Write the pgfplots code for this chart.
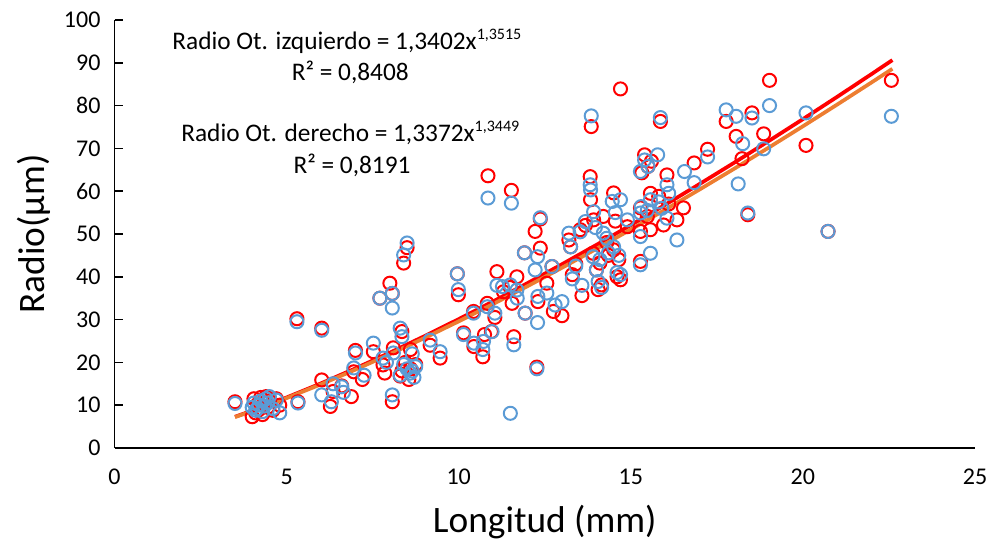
\documentclass[border=0pt]{standalone}
\usepackage{fontspec}
\setmainfont{Carlito}
\usepackage{pgfplots}
\pgfplotsset{compat=1.18}
\definecolor{xred}{RGB}{255,0,0}
\definecolor{xblue}{RGB}{91,155,213}
\definecolor{xorange}{RGB}{237,125,49}

\begin{document}
\begin{tikzpicture}
\useasboundingbox (-85.9pt,-72pt) rectangle (655.9pt,336pt);
\begin{axis}[
  at={(0,0)}, anchor=south west,
  scale only axis, width=645.4pt, height=321pt,
  xmin=0, xmax=25, ymin=0, ymax=100,
  axis x line=bottom, axis y line=left,
  axis line style={-, line width=1.1pt, black},
  xtick={0,5,10,15,20,25}, ytick={0,10,20,30,40,50,60,70,80,90,100},
  x tick style={draw=none},
  y tick style={line width=1.1pt, black},
  tick align=inside, major tick length=6pt,
  ticklabel style={font=\fontsize{18}{20}\selectfont},
  /pgf/number format/assume math mode=true,
  xticklabel style={yshift=-12.5pt},
  yticklabel style={xshift=-7pt},
  xlabel={Longitud (mm)}, ylabel={Radio(µm)},
  xlabel style={at={(axis description cs:0.5,-0.1986)}, anchor=base, font=\fontsize{28}{30}\selectfont},
  ylabel style={at={(axis description cs:-0.0815,0.5)}, anchor=base, rotate=0, font=\fontsize{28}{30}\selectfont},
]
\addplot[only marks, mark=o, mark size=4.9pt, mark options={draw=xred, line width=1.5pt}] coordinates {
(3.5,10.8) (4.0,7.3) (4.05,11.5) (4.1,8.2) (4.15,10.2) (4.2,9.0) (4.25,11.8) (4.3,7.8) (4.35,10.5) (4.4,12.0)
(4.45,9.5) (4.5,11.0) (4.6,8.8) (4.7,11.5) (4.8,10.0) (5.33,10.8) (5.3,30.2) (6.02,28.0) (6.02,15.9) (6.27,9.7)
(6.35,13.2) (6.6,14.5) (6.88,12.0) (7.0,22.8) (6.95,17.8) (7.2,16.0) (7.52,22.5) (7.71,35.0) (8.0,38.5) (8.07,36.1)
(8.07,10.8) (7.8,19.4) (7.85,17.5) (8.1,23.4) (8.35,27.2) (8.6,23.0) (8.4,43.2) (8.5,46.8) (8.35,18.0) (8.45,20.0)
(8.55,16.0) (8.6,18.5) (8.75,19.5) (8.3,16.8) (9.17,24.0) (9.46,21.0) (9.96,40.7) (9.99,35.8) (10.14,26.9) (10.43,31.9)
(10.44,23.7) (10.7,21.3) (10.75,26.5) (10.83,33.8) (10.85,63.6) (10.95,27.2) (11.05,30.5) (11.11,41.2) (11.3,36.5) (11.5,37.5)
(11.53,60.2) (11.55,33.8) (11.6,26.0) (11.69,40.0) (11.91,45.6) (11.93,31.5) (12.22,50.6) (12.27,18.9) (12.3,34.2) (12.37,53.5)
(12.37,46.7) (12.56,38.5) (12.71,42.4) (12.75,31.9) (13.0,30.9) (13.2,48.6) (13.25,47.0) (13.3,40.5) (13.4,43.0) (13.53,51.0)
(13.58,35.6) (13.68,52.0) (13.82,63.4) (13.83,58.0) (13.85,75.1) (13.9,45.5) (13.92,53.3) (14.0,41.6) (14.05,37.0) (14.1,43.2)
(14.15,38.1) (14.2,54.1) (14.3,48.0) (14.35,45.0) (14.5,59.6) (14.5,46.3) (14.55,53.0) (14.6,40.0) (14.65,44.0) (14.7,39.3)
(14.7,83.9) (14.9,51.7) (15.28,43.6) (15.28,50.6) (15.28,56.1) (15.32,64.3) (15.4,68.5) (15.48,54.1) (15.5,65.8) (15.57,51.0)
(15.57,59.5) (15.6,67.0) (15.81,58.8) (15.86,76.3) (15.95,52.1) (16.05,63.8) (16.1,57.0) (16.34,53.3) (16.53,56.1) (16.84,66.6)
(17.23,69.8) (17.77,76.3) (18.06,72.8) (18.23,67.6) (18.4,54.5) (18.52,78.3) (18.86,73.4) (19.03,85.9) (20.09,70.7) (20.73,50.6)
(22.57,85.9)
};
\addplot[only marks, mark=o, mark size=4.9pt, mark options={draw=xblue, line width=1.5pt}] coordinates {
(3.5,10.4) (4.0,9.5) (4.05,10.5) (4.1,8.8) (4.15,9.2) (4.2,10.0) (4.25,11.0) (4.3,8.5) (4.35,9.8) (4.4,11.5)
(4.45,10.5) (4.5,12.0) (4.6,9.2) (4.7,11.2) (4.8,8.2) (5.33,10.5) (5.3,29.5) (6.02,27.5) (6.02,12.4) (6.3,10.8)
(6.35,15.0) (6.6,14.3) (6.65,13.0) (7.0,22.2) (6.95,18.7) (7.25,17.0) (7.52,24.5) (7.71,35.0) (8.07,36.1) (8.07,32.7)
(8.07,12.4) (7.8,21.0) (7.9,20.0) (8.1,22.2) (8.3,28.0) (8.35,26.0) (8.65,22.0) (8.4,45.1) (8.5,47.9) (8.3,17.0)
(8.4,19.5) (8.5,18.5) (8.6,17.5) (8.65,18.0) (8.7,16.5) (8.75,19.0) (9.17,25.2) (9.46,22.5) (9.96,40.7) (9.99,37.0)
(10.14,26.5) (10.43,31.5) (10.44,24.5) (10.7,23.0) (10.72,24.9) (10.83,33.0) (10.85,58.4) (10.97,27.2) (11.05,31.5) (11.11,38.0)
(11.27,37.7) (11.5,38.1) (11.53,57.2) (11.7,35.0) (11.6,24.1) (11.69,36.9) (11.5,8.1) (11.91,45.6) (11.93,31.5) (12.22,41.6)
(12.27,18.5) (12.29,29.3) (12.3,35.4) (12.37,53.8) (12.29,44.7) (12.56,36.2) (12.71,42.4) (12.8,33.4) (13.0,34.2) (13.2,50.2)
(13.25,47.0) (13.3,39.5) (13.4,42.5) (13.53,50.5) (13.58,38.0) (13.68,52.9) (13.82,61.5) (13.83,60.3) (13.85,77.6) (13.9,44.7)
(13.92,55.2) (13.97,51.5) (14.0,41.6) (14.05,38.9) (14.1,44.0) (14.15,37.5) (14.2,50.2) (14.3,49.0) (14.35,45.6) (14.46,57.6)
(14.5,47.0) (14.55,55.0) (14.6,41.0) (14.65,45.0) (14.7,40.5) (14.7,58.0) (14.9,53.3) (15.28,42.8) (15.28,49.4) (15.28,54.9)
(15.3,56.4) (15.28,64.6) (15.4,67.3) (15.48,55.5) (15.5,65.8) (15.57,45.5) (15.57,58.0) (15.78,68.5) (15.81,57.5) (15.86,77.2)
(15.9,56.0) (16.05,53.7) (16.05,61.5) (16.1,59.5) (16.34,48.6) (16.56,64.6) (16.84,62.0) (17.23,68.0) (17.77,79.0) (18.06,77.5)
(18.25,71.1) (18.12,61.7) (18.4,54.9) (18.52,77.1) (18.86,69.9) (19.03,80.0) (20.09,78.3) (20.73,50.6) (22.57,77.5)
};
\addplot[xred, line width=2.8pt, no marks] coordinates {
(3.5,7.286) (4,8.727) (5,11.799) (6,15.095) (7,18.593) (8,22.269) (9,26.111) (10,30.108) (11,34.247) (12,38.523)
(13,42.927) (14,47.450) (15,52.086) (16,56.834) (17,61.685) (18,66.637) (19,71.690) (20,76.835) (21,82.073) (22,87.398) (22.6,90.635)
};
\addplot[xorange, line width=2.8pt, no marks] coordinates {
(3.5,7.210) (4,8.628) (5,11.648) (6,14.885) (7,18.314) (8,21.917) (9,25.678) (10,29.587) (11,33.636) (12,37.811)
(13,42.111) (14,46.525) (15,51.048) (16,55.678) (17,60.407) (18,65.232) (19,70.153) (20,75.164) (21,80.261) (22,85.443) (22.6,88.594)
};
\node[anchor=base, font=\fontsize{19}{22}\selectfont] at (axis cs:6.75,93.1) {Radio Ot. izquierdo = 1,3402x\raisebox{7.3pt}{\fontsize{12}{14}\selectfont 1,3515}};
\node[anchor=base, font=\fontsize{19}{22}\selectfont] at (axis cs:6.85,85.75) {R² = 0,8408};
\node[anchor=base, font=\fontsize{19}{22}\selectfont] at (axis cs:6.85,71.6) {Radio Ot. derecho = 1,3372x\raisebox{7.3pt}{\fontsize{12}{14}\selectfont 1,3449}};
\node[anchor=base, font=\fontsize{19}{22}\selectfont] at (axis cs:6.9,64.25) {R² = 0,8191};
\end{axis}
\end{tikzpicture}
\end{document}
